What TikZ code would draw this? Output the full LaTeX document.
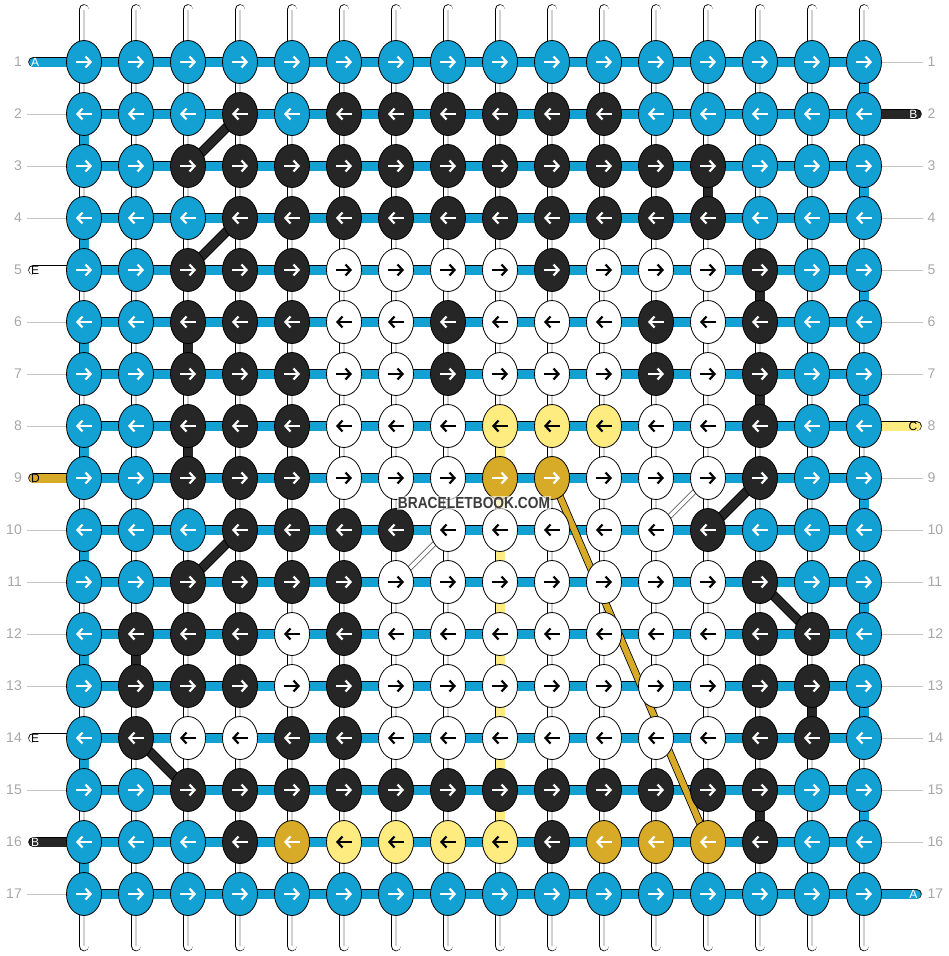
\documentclass[tikz,border=0pt]{standalone}
\usepackage{fontspec}
\setmainfont{Liberation Sans}
\usetikzlibrary{shapes.geometric,arrows.meta,backgrounds}

\definecolor{strA}{HTML}{12A1D2}
\definecolor{strB}{HTML}{262626}
\definecolor{strC}{HTML}{FFEC80}
\definecolor{strD}{HTML}{D7AB27}
\definecolor{strE}{HTML}{FFFFFF}
\colorlet{arrA}{white}
\colorlet{arrB}{white}
\colorlet{arrC}{black}
\colorlet{arrD}{white}
\colorlet{arrE}{black}
\colorlet{txtA}{white}
\colorlet{txtB}{white}
\colorlet{txtC}{black}
\colorlet{txtD}{black}
\colorlet{txtE}{black}
\definecolor{rowgray}{HTML}{A8A8A8}
\definecolor{leadgray}{HTML}{C4C4C4}
\definecolor{wmgray}{HTML}{3C3C3C}

\tikzset{
  knot/.style={ellipse, draw=black, line width=0.8pt, minimum width=35pt,
    minimum height=43pt, inner sep=0pt},
  tube/.style={draw=black, line width=0.8pt, double=#1, double distance=9pt},
  tube/.default=white,
  core/.style={draw=black!18, line width=1.8pt},
  knotarrow/.style={draw=#1, line width=2.2pt,
    -{Straight Barb[length=5pt,width=11pt]}},
  rownum/.style={text=rowgray, font=\fontsize{14}{14}\selectfont, inner sep=0pt},
  leader/.style={draw=leadgray, line width=0.8pt},
  strlabel/.style={font=\fontsize{12}{12}\selectfont, inner sep=0pt},
  watermark/.style={font=\bfseries\fontsize{16}{16}\selectfont, text=wmgray,
    fill=white, fill opacity=0.6, text opacity=1, inner sep=1pt}
}

\begin{document}
\begin{tikzpicture}[x=1pt,y=-1pt]
\useasboundingbox (0,0) rectangle (948,956);

\foreach \ri/\dir/\cols in {
  1/1/{A,A,A,A,A,A,A,A,A,A,A,A,A,A,A,A},
  2/-1/{A,A,A,B,A,B,B,B,B,B,B,A,A,A,A,A},
  3/1/{A,A,B,B,B,B,B,B,B,B,B,B,B,A,A,A},
  4/-1/{A,A,A,B,B,B,B,B,B,B,B,B,B,A,A,A},
  5/1/{A,A,B,B,B,E,E,E,E,B,E,E,E,B,A,A},
  6/-1/{A,A,B,B,B,E,E,B,E,E,E,B,E,B,A,A},
  7/1/{A,A,B,B,B,E,E,B,E,E,E,B,E,B,A,A},
  8/-1/{A,A,B,B,B,E,E,E,C,C,C,E,E,B,A,A},
  9/1/{A,A,B,B,B,E,E,E,D,D,E,E,E,B,A,A},
  10/-1/{A,A,A,B,B,B,B,E,E,E,E,E,B,A,A,A},
  11/1/{A,A,B,B,B,B,E,E,E,E,E,E,E,B,A,A},
  12/-1/{A,B,B,B,E,B,E,E,E,E,E,E,E,B,B,A},
  13/1/{A,B,B,B,E,B,E,E,E,E,E,E,E,B,B,A},
  14/-1/{A,B,E,E,B,B,E,E,E,E,E,E,E,B,B,A},
  15/1/{A,A,B,B,B,B,B,B,B,B,B,B,B,B,A,A},
  16/-1/{A,A,A,B,D,C,C,C,C,B,D,D,D,B,A,A},
  17/1/{A,A,A,A,A,A,A,A,A,A,A,A,A,A,A,A}}{
  \foreach \kc [count=\ci] in \cols {
    \node[knot, fill=str\kc] (k-\ri-\ci) at ({84+52*(\ci-1)},{62+52*(\ri-1)}) {};
    \draw[knotarrow=arr\kc] (k-\ri-\ci.center) ++({-8*\dir},0) -- ++({16*\dir},0);
  }
}

\foreach \ri in {1,...,17}{
  \node[rownum, anchor=east] (nl-\ri) at (22,{62+52*(\ri-1)}) {\ri};
  \node[rownum, anchor=west] (nr-\ri) at (927.5,{62+52*(\ri-1)}) {\ri};
}

\node[watermark] (wm) at (474,503) {\scalebox{0.86}[1]{BRACELETBOOK.COM}};

\begin{pgfonlayer}{background}
  \fill[white] (0,0) rectangle (948,956);
  \foreach \ci in {1,...,16}{
    \coordinate (t-\ci) at ({84+52*(\ci-1)},9.5);
    \coordinate (b-\ci) at ({84+52*(\ci-1)},946);
    \draw[tube, line cap=round] (t-\ci) -- (b-\ci);
    \draw[core] (t-\ci) -- (b-\ci);
  }
  \foreach \ri in {2,4,...,16}{
    \pgfmathtruncatemacro\rn{\ri+1}
    \draw[tube=strA] (k-\ri-1.center) -- (k-\rn-1.center);
  }
  \foreach \ri in {1,3,...,15}{
    \pgfmathtruncatemacro\rn{\ri+1}
    \draw[tube=strA] (k-\ri-16.center) -- (k-\rn-16.center);
  }
  \foreach \ri/\ci/\kc in {3/13/B,5/14/B,6/3/B,7/14/B,8/3/B,12/2/B,13/15/B,15/14/B,
      8/9/C,9/9/C,10/9/C,11/9/C,12/9/C,13/9/C,14/9/C,15/9/C}{
    \pgfmathtruncatemacro\rn{\ri+1}
    \draw[tube=str\kc] (k-\ri-\ci.center) -- (k-\rn-\ci.center);
  }
  \foreach \ri in {1,...,17}
    \draw[tube=strA] (k-\ri-1.center) -- (k-\ri-16.center);

  \foreach \ri/\kc in {1/A,5/E,9/D,14/E,16/B}{
    \coordinate (sl-\ri) at (33.5,{62+52*(\ri-1)});
    \draw[tube=str\kc, line cap=round] (sl-\ri) -- (k-\ri-1.center);
    \node[strlabel, text=txt\kc, anchor=west] (sll-\ri) at (31,{62+52*(\ri-1)}) {\kc};
  }
  \foreach \ri/\kc in {2/B,8/C,17/A}{
    \coordinate (sr-\ri) at (916.5,{62+52*(\ri-1)});
    \draw[tube=str\kc, line cap=round] (k-\ri-16.center) -- (sr-\ri);
    \node[strlabel, text=txt\kc, anchor=east] (srl-\ri) at (917.5,{62+52*(\ri-1)}) {\kc};
  }

  \foreach \ri in {2,3,4,6,7,8,10,11,12,13,15,17}
    \draw[leader] ([xshift=4.5pt]nl-\ri.east) -- (k-\ri-1);
  \foreach \ri in {1,3,4,5,6,7,9,10,11,12,13,14,15,16}
    \draw[leader] (k-\ri-16) -- ([xshift=-5pt]nr-\ri.west);

  \foreach \pa/\pb in {2-4/3-3,4-4/5-3,10-4/11-3,9-14/10-13,11-14/12-15,14-2/15-3}
    \draw[tube=strB, double distance=8pt] (k-\pa.center) -- (k-\pb.center);
  \foreach \pa/\pb in {10-8/11-7,9-13/10-12}
    \draw[draw=black, line width=0.5pt, double=white, double distance=4pt]
      (k-\pa.center) -- (k-\pb.center);
  \draw[tube=strD, double distance=6pt] (k-9-10.center) -- (k-16-13.center);
\end{pgfonlayer}
\end{tikzpicture}
\end{document}
